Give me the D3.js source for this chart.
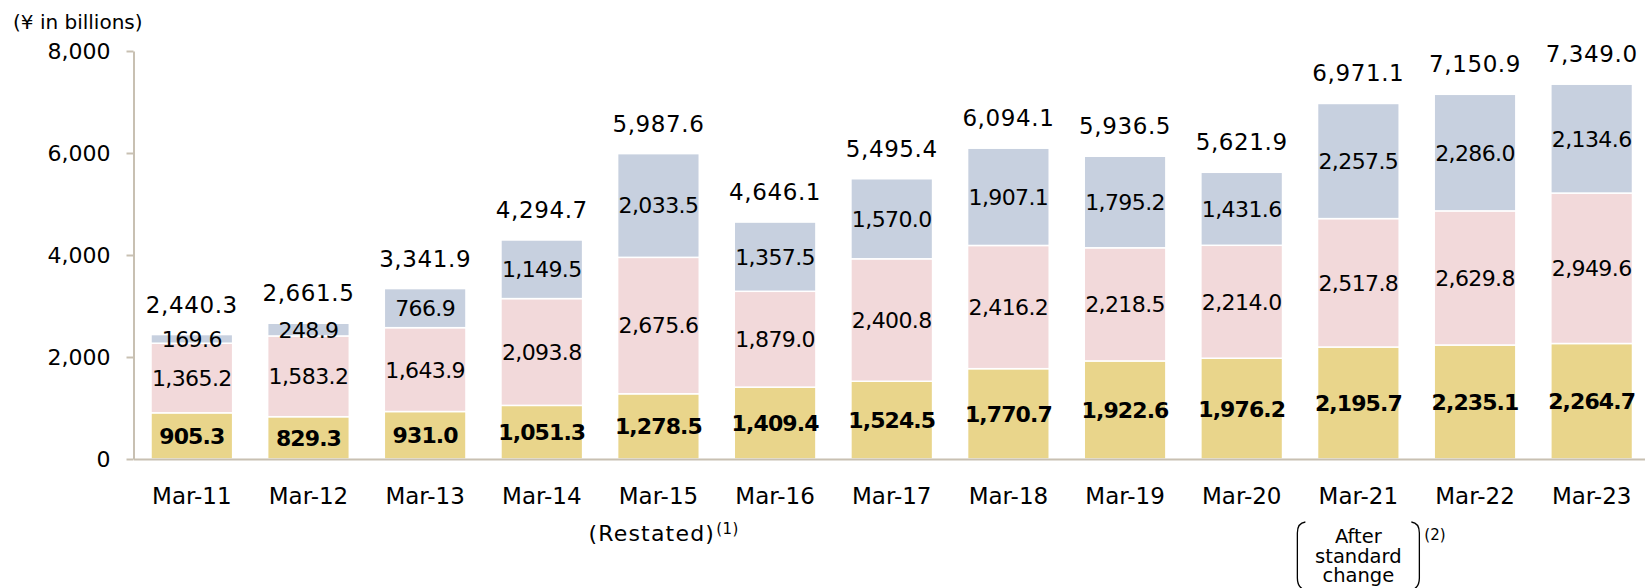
<!DOCTYPE html>
<html>
<head>
<meta charset="utf-8">
<script src="https://cdn.jsdelivr.net/npm/d3@7"></script>
<style>
  body { margin: 0; background: #fff; }
  svg { display: block; font-family: "DejaVu Sans", Verdana, sans-serif; }
</style>
</head>
<body>
<svg id="chart" width="1645" height="588"></svg>
<script>
// data
const categories = ["Mar-11", "Mar-12", "Mar-13", "Mar-14", "Mar-15", "Mar-16", "Mar-17",
  "Mar-18", "Mar-19", "Mar-20", "Mar-21", "Mar-22", "Mar-23"];
const bottomVals = [905.3, 829.3, 931.0, 1051.3, 1278.5, 1409.4, 1524.5, 1770.7, 1922.6, 1976.2, 2195.7, 2235.1, 2264.7];
const middleVals = [1365.2, 1583.2, 1643.9, 2093.8, 2675.6, 1879.0, 2400.8, 2416.2, 2218.5, 2214.0, 2517.8, 2629.8, 2949.6];
const topVals = [169.6, 248.9, 766.9, 1149.5, 2033.5, 1357.5, 1570.0, 1907.1, 1795.2, 1431.6, 2257.5, 2286.0, 2134.6];
const totals = [2440.3, 2661.5, 3341.9, 4294.7, 5987.6, 4646.1, 5495.4, 6094.1, 5936.5, 5621.9, 6971.1, 7150.9, 7349.0];
const yTicks = [0, 2000, 4000, 6000, 8000];

const colors = ["#E9D58B", "#F2D9DA", "#C7D0DF"];
const axisColor = "#C8C0B2";

const svg = d3.select("#chart");

const x = d3.scaleBand()
  .domain(categories)
  .range([133.5, 1650])
  .paddingInner(0.3)
  .paddingOuter(0.15);

const y = d3.scaleLinear()
  .domain([0, 8000])
  .range([459, 51]);

const fmt = d3.format(",.1f");

// stacked rows
const rows = categories.map((c, i) => ({
  cat: c, a: bottomVals[i], b: middleVals[i], c: topVals[i], total: totals[i]
}));
const stack = d3.stack().keys(["a", "b", "c"]);
const series = stack(rows);

const layers = svg.append("g").selectAll("g")
  .data(series)
  .enter().append("g")
  .attr("fill", (d, i) => colors[i]);

layers.selectAll("rect")
  .data(d => d)
  .enter().append("rect")
  .attr("x", d => x(d.data.cat))
  .attr("y", d => y(d[1]))
  .attr("width", x.bandwidth())
  .attr("height", d => y(d[0]) - y(d[1]))
  .attr("stroke", "#fff")
  .attr("stroke-width", 1.5);

// segment labels
series.forEach((s, si) => {
  svg.append("g").selectAll("text")
    .data(s)
    .enter().append("text")
    .attr("x", d => x(d.data.cat) + x.bandwidth() / 2)
    .attr("y", d => (y(d[0]) + y(d[1])) / 2)
    .attr("dy", "0.36em")
    .attr("text-anchor", "middle")
    .style("font-size", "22px")
    .style("font-weight", si === 0 ? "bold" : "normal")
    .style("letter-spacing", si === 0 ? "-0.9px" : "-0.6px")
    .attr("fill", "#000")
    .text(d => fmt(d.data[s.key]));
});

// totals
svg.append("g").selectAll("text")
  .data(rows)
  .enter().append("text")
  .attr("x", d => x(d.cat) + x.bandwidth() / 2)
  .attr("y", d => y(d.total) - 22)
  .attr("text-anchor", "middle")
  .style("font-size", "23px")
  .style("letter-spacing", "0.6px")
  .attr("fill", "#000")
  .text(d => fmt(d.total));

// y axis
const yAxis = d3.axisLeft(y)
  .tickValues(yTicks)
  .tickSize(7)
  .tickSizeOuter(0)
  .tickPadding(16)
  .tickFormat(d3.format(","));

const gy = svg.append("g")
  .attr("transform", "translate(133.5,0)")
  .call(yAxis);
gy.select(".domain").attr("stroke", axisColor).attr("stroke-width", 2);
gy.selectAll(".tick line").attr("stroke", axisColor).attr("stroke-width", 2);
gy.selectAll(".tick text")
  .style("font-size", "22px")
  .style("font-family", "DejaVu Sans, sans-serif")
  .attr("fill", "#000");

// x axis
const xAxis = d3.axisBottom(x).tickSize(0).tickPadding(29);
const gx = svg.append("g")
  .attr("transform", "translate(0,459)")
  .call(xAxis);
gx.select(".domain").attr("stroke", axisColor).attr("stroke-width", 2);
gx.selectAll(".tick text")
  .style("font-size", "23px")
  .style("font-family", "DejaVu Sans, sans-serif")
  .attr("fill", "#000");

// unit label
svg.append("text")
  .attr("x", 13)
  .attr("y", 29)
  .style("font-size", "20px")
  .attr("fill", "#000")
  .text("(¥ in billions)");

// (Restated)(1) under Mar-15
const c15 = x("Mar-15") + x.bandwidth() / 2;
const restated = svg.append("text")
  .attr("x", c15 - 70)
  .attr("y", 541)
  .style("font-size", "22px")
  .style("letter-spacing", "1.2px")
  .attr("fill", "#000");
restated.append("tspan").text("(Restated)");
restated.append("tspan")
  .attr("dx", 1)
  .attr("dy", -7)
  .style("font-size", "15px")
  .style("letter-spacing", "0.5px")
  .text("(1)");

// After standard change under Mar-21
const c21 = x("Mar-21") + x.bandwidth() / 2;
const note = svg.append("g");
["After", "standard", "change"].forEach((t, i) => {
  note.append("text")
    .attr("x", c21)
    .attr("y", 543 + i * 19.5)
    .attr("text-anchor", "middle")
    .style("font-size", "19.5px")
    .attr("fill", "#000")
    .text(t);
});
const bl = c21 - 61, br = c21 + 61;
note.append("path")
  .attr("d", `M${bl + 8},522 Q${bl},523 ${bl},533 L${bl},578 Q${bl},588 ${bl + 8},590`)
  .attr("fill", "none").attr("stroke", "#000").attr("stroke-width", 1.3);
note.append("path")
  .attr("d", `M${br - 8},522 Q${br},523 ${br},533 L${br},578 Q${br},588 ${br - 8},590`)
  .attr("fill", "none").attr("stroke", "#000").attr("stroke-width", 1.3);
note.append("text")
  .attr("x", br + 5)
  .attr("y", 540)
  .style("font-size", "15px")
  .attr("fill", "#000")
  .text("(2)");
</script>
</body>
</html>
